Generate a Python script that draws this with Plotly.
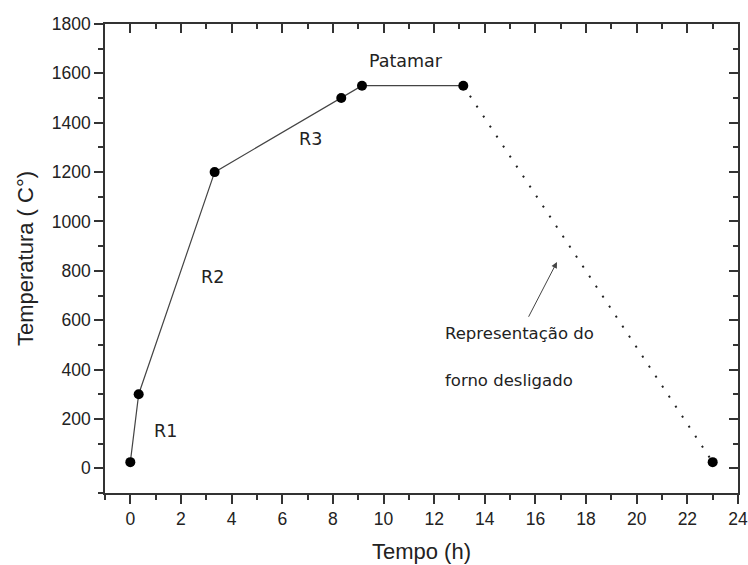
import plotly.graph_objects as go

# Data
tempo = [0, 0.33, 3.33, 8.33, 9.15, 13.15]
temperatura = [25, 300, 1200, 1500, 1550, 1550]
tempo_off = [13.15, 23.0]
temp_off = [1550, 25]

labels = ["R1", "R2", "R3", "Patamar"]
label_x = [1.4, 3.25, 7.1, 10.9]
label_y = [150, 775, 1335, 1650]

fig = go.Figure()
fig.add_trace(go.Scatter(x=tempo_off, y=temp_off, mode="lines",
                         line=dict(color="#222222", width=2, dash="2px,10px"),
                         showlegend=False))
fig.add_trace(go.Scatter(x=tempo, y=temperatura, mode="lines",
                         line=dict(color="#444444", width=1.2),
                         showlegend=False))
fig.add_trace(go.Scatter(x=tempo + [tempo_off[-1]], y=temperatura + [temp_off[-1]],
                         mode="markers",
                         marker=dict(color="black", size=10),
                         showlegend=False))

ann_font = dict(family="DejaVu Sans", size=17.5, color="#222222")
for t, x, y in zip(labels, label_x, label_y):
    fig.add_annotation(x=x, y=y, text=t, showarrow=False, font=ann_font,
                       xref="x", yref="y")

small_font = dict(family="DejaVu Sans", size=16.5, color="#222222")
fig.add_annotation(x=12.35, y=548, text="Representação do", showarrow=False,
                   xanchor="left", font=small_font)
fig.add_annotation(x=12.35, y=357, text="forno desligado", showarrow=False,
                   xanchor="left", font=small_font)
fig.add_annotation(x=16.85, y=836, ax=15.7, ay=608, axref="x", ayref="y",
                   xref="x", yref="y", text="", showarrow=True,
                   arrowhead=2, arrowsize=1.2, arrowwidth=1, arrowcolor="#444444")

tick_font = dict(family="Liberation Sans", size=17.5, color="#222222")
title_font = dict(family="Liberation Sans", size=22, color="#222222")
axcol = "#333333"
fig.update_layout(
    width=748, height=565,
    margin=dict(l=105, r=10, t=24, b=72),
    plot_bgcolor="white", paper_bgcolor="white",
    xaxis=dict(range=[-1, 24], tickmode="linear", tick0=0, dtick=2, automargin=False,
               ticks="outside", ticklen=9, tickwidth=1.5, tickcolor=axcol,
               showline=True, linecolor=axcol, linewidth=1.5,
               showgrid=False, zeroline=False, tickfont=tick_font,
               minor=dict(ticks="outside", ticklen=5, dtick=1, tick0=0, tickcolor=axcol, tickwidth=1.5),
               title=dict(text="Tempo (h)", font=title_font, standoff=16)),
    yaxis=dict(range=[-100, 1800], tickmode="linear", tick0=0, dtick=200, automargin=False,
               ticks="outside", ticklen=9, tickwidth=1.5, tickcolor=axcol,
               showline=True, linecolor=axcol, linewidth=1.5,
               showgrid=False, zeroline=False, tickfont=tick_font,
               minor=dict(ticks="outside", ticklen=5, dtick=100, tick0=0, tickcolor=axcol, tickwidth=1.5),
               title=dict(text="Temperatura ( C°)", font=title_font, standoff=12)),
    xaxis2=dict(range=[-1, 24], overlaying="x", side="top", tickmode="linear", tick0=0, dtick=2,
                ticks="inside", ticklen=9, tickwidth=1.5, tickcolor=axcol,
                showline=True, linecolor=axcol, linewidth=1.5, showticklabels=False,
                showgrid=False, zeroline=False,
                minor=dict(ticks="inside", ticklen=5, dtick=1, tick0=0, tickcolor=axcol, tickwidth=1.5)),
    yaxis2=dict(range=[-100, 1800], overlaying="y", side="right", tickmode="linear", tick0=0, dtick=200,
                ticks="inside", ticklen=9, tickwidth=1.5, tickcolor=axcol,
                showline=True, linecolor=axcol, linewidth=1.5, showticklabels=False,
                showgrid=False, zeroline=False,
                minor=dict(ticks="inside", ticklen=5, dtick=100, tick0=0, tickcolor=axcol, tickwidth=1.5)),
)
# dummy trace to activate top/right axes
fig.add_trace(go.Scatter(x=[None], y=[None], xaxis="x2", yaxis="y2", showlegend=False, hoverinfo="skip"))

fig.write_html("out.html")
